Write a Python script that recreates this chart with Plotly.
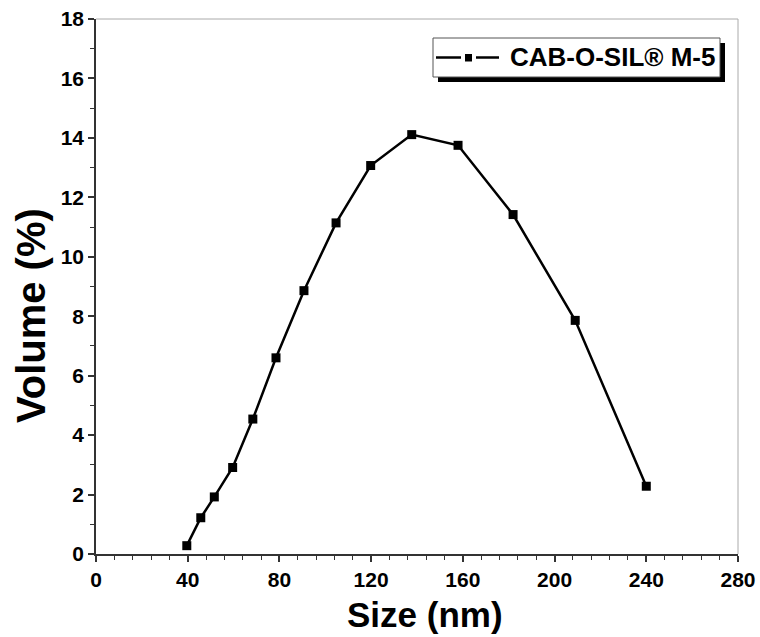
import plotly.graph_objects as go

size_nm = [39.6, 45.7, 51.6, 59.6, 68.4, 78.5, 90.7, 104.7, 119.8, 137.7, 157.9, 181.9, 209.0, 240.0]
volume_pct = [0.28, 1.22, 1.92, 2.91, 4.54, 6.60, 8.86, 11.14, 13.07, 14.11, 13.75, 11.42, 7.86, 2.28]
series_name = "CAB-O-SIL® M-5"
x_title = "Size (nm)"
y_title = "Volume (%)"
x_ticks = [0, 40, 80, 120, 160, 200, 240, 280]
y_ticks = [0, 2, 4, 6, 8, 10, 12, 14, 16, 18]

W, H = 760, 637
L, R, T, B = 96, 22, 19, 83
pw, ph = W - L - R, H - T - B

def px(x):
    return (x - L) / pw

def py(y):
    return (H - B - y) / ph

sans = "Liberation Sans, Arial"

fig = go.Figure()
fig.add_trace(go.Scatter(
    x=size_nm, y=volume_pct, mode="lines+markers", name=series_name,
    line=dict(color="black", width=2.5),
    marker=dict(symbol="square", size=9, color="black"),
    showlegend=False,
))

axis_common = dict(
    showgrid=False, zeroline=False, showline=True, linecolor="#333", linewidth=1.5,
    ticks="outside", ticklen=6, tickwidth=1.5, tickcolor="#333", automargin=False,
)
fig.update_xaxes(
    range=[0, 280], tickvals=x_ticks,
    minor=dict(dtick=8, ticks="outside", ticklen=4, tickwidth=1.2, tickcolor="#333"),
    tickfont=dict(family=sans, size=21, color="black", weight="bold"),
    **axis_common,
)
fig.update_yaxes(
    range=[0, 18], tickvals=y_ticks,
    minor=dict(dtick=1, ticks="outside", ticklen=4, tickwidth=1.2, tickcolor="#333"),
    tickfont=dict(family=sans, size=21, color="black", weight="bold"),
    **axis_common,
)

shapes = [
    dict(type="line", xref="paper", yref="paper", x0=0, x1=1, y0=1, y1=1, line=dict(color="#aaa", width=1)),
    dict(type="line", xref="paper", yref="paper", x0=1, x1=1, y0=0, y1=1, line=dict(color="#aaa", width=1)),
    dict(type="rect", xref="paper", yref="paper", x0=px(438), x1=px(725), y0=py(82), y1=py(43),
         fillcolor="black", line=dict(width=0), layer="above"),
    dict(type="rect", xref="paper", yref="paper", x0=px(433), x1=px(720), y0=py(77), y1=py(38),
         fillcolor="white", line=dict(color="#555", width=1), layer="above"),
    dict(type="line", xref="paper", yref="paper", x0=px(436), x1=px(461), y0=py(57.5), y1=py(57.5),
         line=dict(color="black", width=2.5), layer="above"),
    dict(type="line", xref="paper", yref="paper", x0=px(476), x1=px(499), y0=py(57.5), y1=py(57.5),
         line=dict(color="black", width=2.5), layer="above"),
    dict(type="rect", xref="paper", yref="paper", x0=px(465), x1=px(472), y0=py(61.5), y1=py(54),
         fillcolor="black", line=dict(width=0), layer="above"),
]
annotations = [
    dict(text=series_name, xref="paper", yref="paper", x=px(717), y=py(57.5),
         xanchor="right", yanchor="middle", showarrow=False,
         font=dict(family=sans, size=26, color="black", weight="bold")),
    dict(text=x_title, xref="paper", yref="paper", x=px(425), y=py(614),
         xanchor="center", yanchor="middle", showarrow=False,
         font=dict(family=sans, size=35, color="black", weight="bold")),
    dict(text=y_title, xref="paper", yref="paper", x=px(31), y=py(316), textangle=-90,
         xanchor="center", yanchor="middle", showarrow=False,
         font=dict(family=sans, size=40, color="black", weight="bold")),
]
fig.update_layout(
    width=W, height=H, margin=dict(l=L, r=R, t=T, b=B),
    paper_bgcolor="white", plot_bgcolor="white",
    shapes=shapes, annotations=annotations,
)
fig.write_html("out.html")
